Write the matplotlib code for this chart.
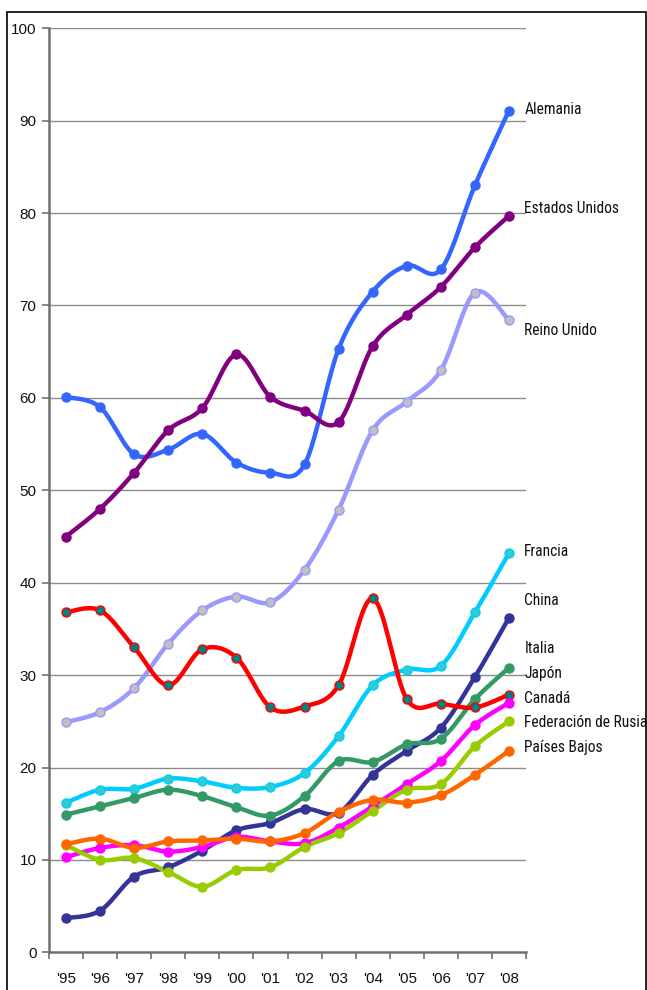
import numpy as np
import matplotlib
matplotlib.use("Agg")
import matplotlib.pyplot as plt
from matplotlib.patches import Rectangle
import matplotlib.transforms as mtransforms
from matplotlib import font_manager as fm

years = ["'95", "'96", "'97", "'98", "'99", "'00", "'01", "'02", "'03", "'04", "'05", "'06", "'07", "'08"]

alemania = [60.1, 59.0, 53.9, 54.4, 56.1, 53.0, 51.9, 52.8, 65.3, 71.5, 74.3, 73.9, 83.0, 91.1]
estados_unidos = [45.0, 48.0, 51.9, 56.5, 58.9, 64.7, 60.1, 58.6, 57.4, 65.6, 69.0, 72.0, 76.3, 79.7]
reino_unido = [24.9, 26.0, 28.6, 33.4, 37.0, 38.5, 37.9, 41.4, 47.9, 56.5, 59.6, 63.0, 71.4, 68.4]
francia = [16.2, 17.6, 17.7, 18.8, 18.5, 17.8, 17.9, 19.4, 23.4, 28.9, 30.6, 31.0, 36.8, 43.2]
china = [3.7, 4.5, 8.2, 9.2, 11.0, 13.2, 14.0, 15.5, 15.1, 19.2, 21.8, 24.3, 29.8, 36.2]
italia = [14.9, 15.8, 16.7, 17.6, 16.9, 15.7, 14.8, 16.9, 20.7, 20.6, 22.5, 23.1, 27.4, 30.8]
japon = [36.8, 37.0, 33.0, 28.9, 32.8, 31.9, 26.5, 26.6, 28.9, 38.3, 27.4, 26.9, 26.5, 27.9]
canada = [10.3, 11.3, 11.6, 10.9, 11.4, 12.5, 12.0, 11.8, 13.5, 15.8, 18.2, 20.7, 24.6, 27.0]
fed_rusia = [11.6, 10.0, 10.2, 8.7, 7.1, 8.9, 9.2, 11.4, 12.9, 15.3, 17.6, 18.2, 22.3, 25.0]
paises_bajos = [11.7, 12.3, 11.3, 12.0, 12.1, 12.3, 12.0, 12.9, 15.2, 16.5, 16.2, 17.0, 19.2, 21.8]

names = ["Alemania", "Estados Unidos", "Reino Unido", "Francia", "China", "Italia",
         "Japón", "Canadá", "Federación de Rusia", "Países Bajos"]
series = [alemania, estados_unidos, reino_unido, francia, china, italia,
          japon, canada, fed_rusia, paises_bajos]
line_colors = ["#3366FF", "#800080", "#9999FF", "#00CCFF", "#333399", "#339966",
               "#FF0000", "#FF00FF", "#99CC00", "#FF6600"]
marker_face = ["#3366FF", "#800080", "#C0C0C0", "#33CCCC", "#333399", "#339966",
               "#008080", "#FF00FF", "#99CC00", "#FF6600"]
label_y = [90.7, 80.0, 66.8, 42.9, 37.6, 32.4, 29.7, 27.0, 24.4, 21.7]


def smooth(xs, ys, n=20):
    xs = np.asarray(xs, float)
    ys = np.asarray(ys, float)
    P = np.column_stack([xs, ys])
    P = np.vstack([P[0], P, P[-1]])
    out = []
    t = np.linspace(0, 1, n, endpoint=False)
    for i in range(1, len(P) - 2):
        p0, p1, p2, p3 = P[i - 1], P[i], P[i + 1], P[i + 2]
        c1 = p1 + (p2 - p0) / 6.0
        c2 = p2 - (p3 - p1) / 6.0
        tt = t[:, None]
        b = ((1 - tt) ** 3) * p1 + 3 * ((1 - tt) ** 2) * tt * c1 + 3 * (1 - tt) * tt ** 2 * c2 + tt ** 3 * p2
        out.append(b)
    out.append(P[-2][None, :])
    out = np.vstack(out)
    return out[:, 0], out[:, 1]


# pick a condensed face if one is installed
cond_family = None
for f in fm.fontManager.ttflist:
    if f.name in ("Liberation Sans Narrow", "Arial Narrow", "Roboto Condensed", "Open Sans Condensed"):
        cond_family = f.name
        break
cond_stretch = "normal"
if cond_family is None:
    for f in fm.fontManager.ttflist:
        if f.name == "DejaVu Sans" and str(f.stretch) in ("condensed", "semi-condensed", "75", "87.5") \
                and f.weight in (400, "normal") and f.style == "normal":
            cond_family = "DejaVu Sans"
            cond_stretch = "condensed"
            break
if cond_family is None:
    cond_family = "Liberation Sans"

fig = plt.figure(figsize=(6.47, 9.90), dpi=100)
ax = fig.add_axes([49 / 647, 1 - 952.3 / 990, (526 - 49) / 647, (952.3 - 28.3) / 990])

x = np.arange(len(years))
for vals, lc, mf in zip(series, line_colors, marker_face):
    sx, sy = smooth(x, vals)
    ax.plot(sx, sy, color=lc, lw=3.2, solid_capstyle="round", solid_joinstyle="round", zorder=3)
    ax.plot(x, vals, linestyle="none", marker="o", ms=6.5, mfc=mf, mec=lc, mew=1.0, zorder=4)

ax.set_xlim(-0.5, len(years) - 0.5)
ax.set_ylim(0, 100)
ax.set_yticks(np.arange(0, 101, 10))
ax.set_xticks(x)
ax.set_xticklabels(years)
ax.set_xticks(np.arange(-0.5, len(years), 1.0), minor=True)
ax.tick_params(axis="x", which="major", length=0, pad=14, labelsize=11, labelcolor="#111111")
ax.tick_params(axis="x", which="minor", length=5, width=1.2, color="#707070", direction="out")
ax.tick_params(axis="y", length=5, width=1.2, color="#707070", direction="out", pad=4,
               labelsize=11, labelcolor="#111111")
for lab in ax.get_xticklabels() + ax.get_yticklabels():
    lab.set_family(["Liberation Sans", "DejaVu Sans"])

for y in range(10, 101, 10):
    ax.axhline(y, color="#8C8C8C", lw=1.0, zorder=1)

for s in ["top", "right"]:
    ax.spines[s].set_visible(False)
for s in ["left", "bottom"]:
    ax.spines[s].set_color("#707070")
    ax.spines[s].set_linewidth(1.8)

fsize = 11.5 if cond_stretch == "condensed" else 11.2
trans = mtransforms.blended_transform_factory(ax.transAxes, ax.transData)
for name, ly in zip(names, label_y):
    ax.text(0.9965, ly, name, transform=trans, ha="left", va="baseline", fontsize=fsize,
            family=[cond_family, "DejaVu Sans"], fontstretch=cond_stretch,
            color="#111111", clip_on=False)

fig.patches.append(Rectangle((7 / 647, -0.02), (645.5 - 7) / 647, 1.02 - 12 / 990,
                             transform=fig.transFigure, fill=False, edgecolor="black", lw=1.2))

fig.savefig("out.png", dpi=100)
